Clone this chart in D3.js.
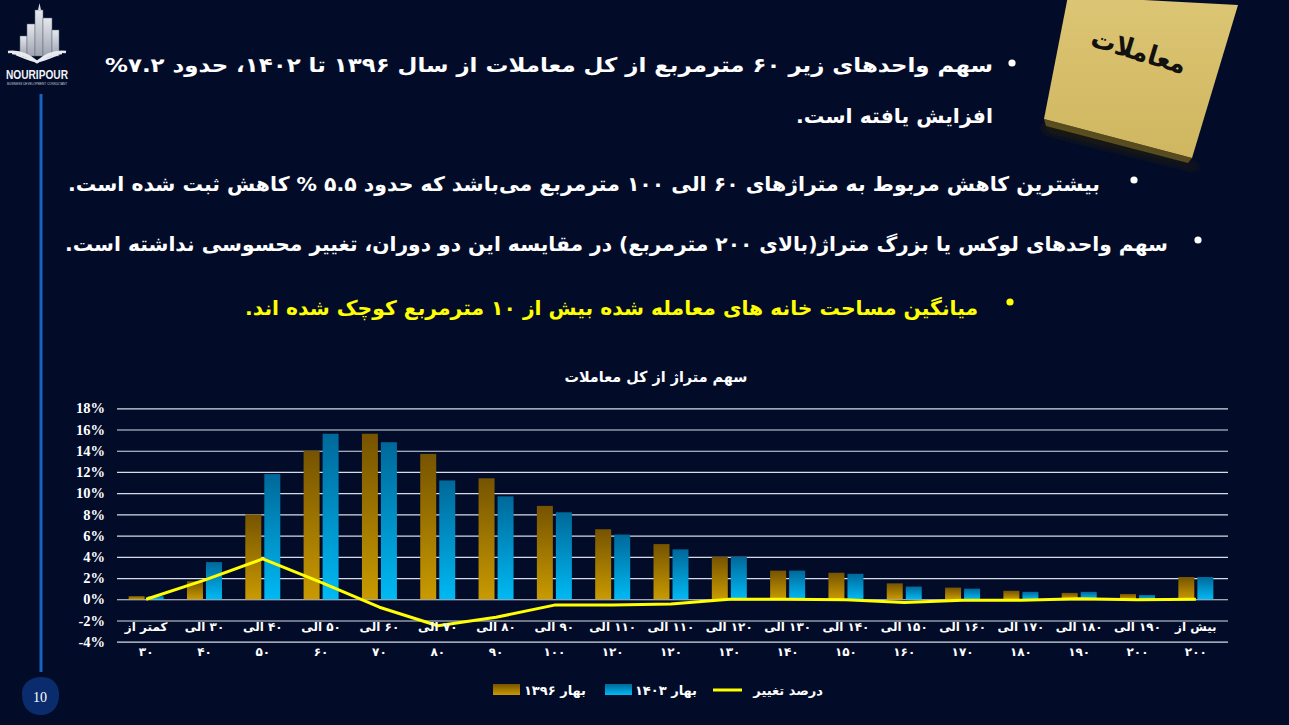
<!DOCTYPE html>
<html><head><meta charset="utf-8">
<script src="https://cdn.jsdelivr.net/npm/d3@7/dist/d3.min.js"></script>
<style>
html,body{margin:0;padding:0;background:#020c29;}
svg{display:block;}
</style></head>
<body>
<svg id="chart" width="1289" height="725"></svg>
<script>
// ---------- DATA ----------
const categoriesTop = ["کمتر از","۳۰ الی","۴۰ الی","۵۰ الی","۶۰ الی","۷۰ الی","۸۰ الی","۹۰ الی","۱۱۰ الی","۱۱۰ الی","۱۲۰ الی","۱۳۰ الی","۱۴۰ الی","۱۵۰ الی","۱۶۰ الی","۱۷۰ الی","۱۸۰ الی","۱۹۰ الی","بیش از"];
const categoriesBottom = ["۳۰","۴۰","۵۰","۶۰","۷۰","۸۰","۹۰","۱۰۰","۱۲۰","۱۲۰","۱۳۰","۱۴۰","۱۵۰","۱۶۰","۱۷۰","۱۸۰","۱۹۰","۲۰۰","۲۰۰"];
const spring1396 = [0.3,1.7,8.0,14.0,15.6,13.7,11.4,8.8,6.6,5.2,4.0,2.7,2.5,1.5,1.1,0.8,0.6,0.5,2.1];
const spring1403 = [0.3,3.5,11.8,15.6,14.8,11.2,9.7,8.2,6.1,4.7,4.0,2.7,2.4,1.2,1.0,0.7,0.7,0.4,2.1];
const changePct  = [0.0,1.8,3.8,1.6,-0.75,-2.5,-1.7,-0.55,-0.55,-0.45,0.0,0.0,-0.05,-0.3,-0.1,-0.1,0.05,-0.05,0.0];
const yTicks = [-4,-2,0,2,4,6,8,10,12,14,16,18];
const seriesNames = ["بهار ۱۳۹۶","بهار ۱۴۰۳","درصد تغییر"];
const chartTitle = "سهم متراژ از کل معاملات";
const bullets = [
  "سهم واحدهای زیر ۶۰ مترمربع از کل معاملات از سال ۱۳۹۶ تا ۱۴۰۲، حدود ۷.۲%",
  "افزایش یافته است.",
  "بیشترین کاهش مربوط به متراژهای ۶۰ الی ۱۰۰ مترمربع می‌باشد که حدود ۵.۵ % کاهش ثبت شده است.",
  "سهم واحدهای لوکس یا بزرگ متراژ(بالای ۲۰۰ مترمربع) در مقایسه این دو دوران، تغییر محسوسی نداشته است.",
  "میانگین مساحت خانه های معامله شده بیش از ۱۰ مترمربع کوچک شده اند."
];
const noteText = "معاملات";
const pageNumber = "10";

// ---------- SETUP ----------
const svg = d3.select("#chart");
const FA = "'DejaVu Sans', 'Noto Sans', sans-serif";
const SERIF = "'Liberation Serif', 'DejaVu Serif', serif";
const defs = svg.append("defs");

function grad(id, c1, c2){
  const g = defs.append("linearGradient").attr("id", id).attr("x1",0).attr("y1",0).attr("x2",0).attr("y2",1);
  g.append("stop").attr("offset","0%").attr("stop-color",c1);
  g.append("stop").attr("offset","100%").attr("stop-color",c2);
}
grad("goldG","#765300","#c99a00");
grad("blueG","#00689a","#00b9f3");
grad("noteG","#dcc574","#cfb660");
grad("bldG","#e6e8ee","#9da3b0");
const blur = defs.append("filter").attr("id","blur").attr("x","-20%").attr("y","-20%").attr("width","140%").attr("height","140%");
blur.append("feGaussianBlur").attr("stdDeviation",4);

svg.append("rect").attr("width",1289).attr("height",725).attr("fill","#020c29");

// ---------- LOGO ----------
const logo = svg.append("g");
[[20,36,7],[27,24,8],[35,10,8],[43,18,9],[52,30,7]].forEach(([x,y,w])=>{
  logo.append("rect").attr("x",x).attr("y",y).attr("width",w).attr("height",56-y).attr("fill","url(#bldG)").attr("stroke","#5d6474").attr("stroke-width",0.5);
});
logo.append("path").attr("d","M38,10 L39.5,3 L41,10 Z").attr("fill","#d8dbe3");
[[0,2.6],[4,2.2],[8,1.8]].forEach(([o,w])=>{
  logo.append("path").attr("d",`M${8+o},${52+o*0.3} Q${24},${50+o} ${37},${62} Q${50},${50+o} ${66-o},${52+o*0.3}`)
    .attr("fill","none").attr("stroke","#e8eaf0").attr("stroke-width",w);
});
logo.append("text").attr("x",37).attr("y",79).attr("text-anchor","middle").attr("font-family","'Liberation Sans', Arial, sans-serif")
  .attr("font-weight","bold").attr("font-size",12).attr("fill","#f0f2f6").attr("textLength",62).attr("lengthAdjust","spacingAndGlyphs").text("NOURIPOUR");
logo.append("text").attr("x",37).attr("y",85).attr("text-anchor","middle").attr("font-family","'Liberation Sans', Arial, sans-serif")
  .attr("font-size",3.6).attr("fill","#c9ccd6").attr("textLength",60).attr("lengthAdjust","spacingAndGlyphs").text("BUSINESS DEVELOPMENT CONSULTANT");

// left vertical line and page number
svg.append("line").attr("x1",41).attr("x2",41).attr("y1",94).attr("y2",672).attr("stroke","#1565c0").attr("stroke-width",3);
svg.append("path").attr("d","M22,694 C22,682 32,677 42,677 C54,677 60,686 59,697 C58,709 50,716 39,715 C28,714 22,706 22,694 Z").attr("fill","#0a2c6c");
svg.append("text").attr("x",40).attr("y",702).attr("text-anchor","middle").attr("font-family",SERIF).attr("font-size",14).attr("fill","#fff").text(pageNumber);

// ---------- STICKY NOTE ----------
svg.append("polygon").attr("points","1046,124 1196,165 1200,170 1042,130").attr("fill","#2c2204").attr("filter","url(#blur)");
svg.append("polygon").attr("points","1068,-4 1238,5 1192,158 1044,119").attr("fill","url(#noteG)");
svg.append("polygon").attr("points","1044,119 1192,158 1188,163 1046,126").attr("fill","#8a7420").attr("opacity",0.6);
svg.append("text").attr("transform","translate(1136,60) rotate(17)").attr("text-anchor","middle").attr("direction","rtl")
  .attr("font-family",FA).attr("font-weight","bold").attr("font-size",27).attr("fill","#111").attr("textLength",98).attr("lengthAdjust","spacingAndGlyphs").text(noteText);

// ---------- BULLET TEXTS ----------
function rtlText(x1, x2, y, str, size, color){
  svg.append("text").attr("x",(x1+x2)/2).attr("y",y).attr("text-anchor","middle").attr("direction","rtl")
    .attr("font-family",FA).attr("font-weight","bold").attr("font-size",size).attr("fill",color)
    .attr("textLength",x2-x1).attr("lengthAdjust","spacingAndGlyphs").text(str);
}
function dot(x,y,color){ svg.append("circle").attr("cx",x).attr("cy",y).attr("r",3.6).attr("fill",color); }
rtlText(105, 993, 72, bullets[0], 20, "#ffffff"); dot(1012,63,"#fff");
rtlText(796, 993, 123, bullets[1], 20, "#ffffff");
rtlText(68, 1100, 191, bullets[2], 20, "#ffffff"); dot(1134,180,"#fff");
rtlText(65, 1168, 251, bullets[3], 20, "#ffffff"); dot(1198,240,"#fff");
rtlText(245, 978, 315, bullets[4], 20, "#ffff00"); dot(1010,302,"#ffff00");

// ---------- CHART ----------
const x0 = d3.scaleBand().domain(d3.range(categoriesTop.length)).range([117,1225]).padding(0);
const bw = x0.bandwidth();
const x1 = d3.scaleBand().domain([0,1]).range([bw*0.2, bw*0.8]).paddingInner(0.16).paddingOuter(0);
const y = d3.scaleLinear().domain([-4,18]).range([641.7,408.3]);

svg.append("text").attr("x",656).attr("y",382).attr("text-anchor","middle").attr("direction","rtl")
  .attr("font-family",FA).attr("font-weight","bold").attr("font-size",15).attr("fill","#fff")
  .attr("textLength",183).attr("lengthAdjust","spacingAndGlyphs").text(chartTitle);

const yAxis = svg.append("g").attr("transform","translate(117,0)")
  .call(d3.axisLeft(y).tickValues(yTicks).tickSize(-1111).tickPadding(12).tickFormat(d=>d+"%"));
yAxis.select(".domain").remove();
yAxis.selectAll(".tick line").attr("stroke","#d6dbe6").attr("stroke-width",1.2);
yAxis.selectAll(".tick text").attr("fill","#fff").attr("font-family",SERIF).attr("font-weight","bold").attr("font-size",14.5);

const groups = svg.append("g").selectAll("g").data(d3.range(categoriesTop.length)).join("g")
  .attr("transform", i=>`translate(${x0(i)},0)`);
groups.append("rect").attr("x",x1(0)).attr("width",x1.bandwidth())
  .attr("y",i=>y(spring1396[i])).attr("height",i=>y(0)-y(spring1396[i])).attr("fill","url(#goldG)");
groups.append("rect").attr("x",x1(1)).attr("width",x1.bandwidth())
  .attr("y",i=>y(spring1403[i])).attr("height",i=>y(0)-y(spring1403[i])).attr("fill","url(#blueG)");

const line = d3.line().x((d,i)=>x0(i)+bw/2).y(d=>y(d));
svg.append("path").datum(changePct).attr("d",line).attr("fill","none").attr("stroke","#ffff00").attr("stroke-width",3).attr("stroke-linejoin","round");

// x labels via axis
const xAxis = svg.append("g").attr("transform","translate(0,599.3)")
  .call(d3.axisBottom(x0).tickSize(0).tickFormat(()=>""));
xAxis.select(".domain").remove();
xAxis.selectAll(".tick text").each(function(i){
  const t = d3.select(this).attr("direction","rtl").attr("fill","#fff").attr("font-family",FA).attr("font-weight","bold").attr("font-size",12).attr("y",0).attr("dy",null);
  t.append("tspan").attr("x",0).attr("y",32).text(categoriesTop[i]);
  t.append("tspan").attr("x",0).attr("y",57).text(categoriesBottom[i]);
});

// ---------- LEGEND ----------
const lg = svg.append("g");
lg.append("rect").attr("x",493).attr("y",684).attr("width",27).attr("height",11).attr("fill","url(#goldG)");
lg.append("text").attr("x",586).attr("y",695).attr("text-anchor","start").attr("direction","rtl").attr("font-family",FA).attr("font-weight","bold").attr("font-size",13).attr("fill","#fff").text(seriesNames[0]);
lg.append("rect").attr("x",605).attr("y",684).attr("width",27).attr("height",11).attr("fill","url(#blueG)");
lg.append("text").attr("x",697).attr("y",695).attr("text-anchor","start").attr("direction","rtl").attr("font-family",FA).attr("font-weight","bold").attr("font-size",13).attr("fill","#fff").text(seriesNames[1]);
lg.append("line").attr("x1",713).attr("x2",742).attr("y1",690).attr("y2",690).attr("stroke","#ffff00").attr("stroke-width",3);
lg.append("text").attr("x",823).attr("y",695).attr("text-anchor","start").attr("direction","rtl").attr("font-family",FA).attr("font-weight","bold").attr("font-size",13).attr("fill","#fff").text(seriesNames[2]);
</script>
</body></html>
